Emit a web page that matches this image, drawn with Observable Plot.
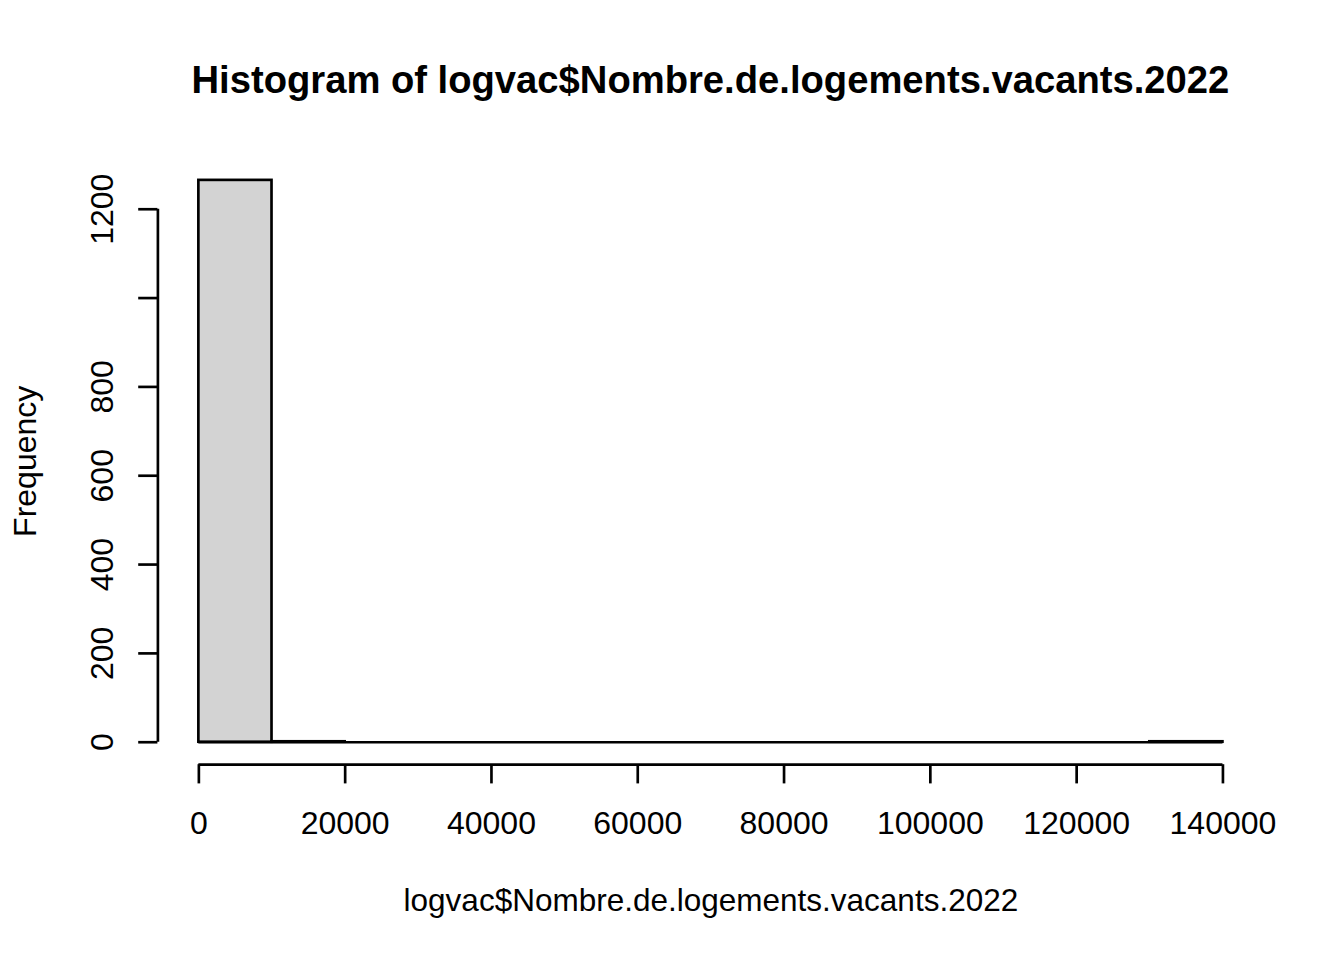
<!DOCTYPE html>
<html><head><meta charset="utf-8">
<script src="https://cdn.jsdelivr.net/npm/d3@7"></script>
<script src="https://cdn.jsdelivr.net/npm/@observablehq/plot@0.6"></script>
<style>
body{margin:0;background:#fff;font-family:"Liberation Sans",Arial,sans-serif;}
#title{box-sizing:border-box;height:120px;padding-top:58px;margin-left:157.4px;width:1106px;text-align:center;
font:700 38.2px/44px "Liberation Sans",Arial,sans-serif;color:#000;white-space:nowrap;}
svg{display:block;}
</style></head>
<body>
<div id="title">Histogram of logvac$Nombre.de.logements.vacants.2022</div>
<div id="chart"></div>
<script>
// Histogram bins (break edges) and counts
const breaks = [0, 10000, 20000, 30000, 40000, 50000, 60000, 70000, 80000, 90000, 100000, 110000, 120000, 130000, 140000];
const counts = [1265, 1, 0, 0, 0, 0, 0, 0, 0, 0, 0, 0, 0, 1];
const xTicks = [0, 20000, 40000, 60000, 80000, 100000, 120000, 140000];
const yTicks = [0, 200, 400, 600, 800, 1000, 1200];
const yTickLabels = [0, 200, 400, 600, 800, 1200]; // R drops "1000" (overlap)
const xTitle = "logvac$Nombre.de.logements.vacants.2022";
const yTitle = "Frequency";

const bins = counts.map((c, i) => ({x0: breaks[i], x1: breaks[i + 1], count: c}));
const xMin = breaks[0], xMax = breaks[breaks.length - 1];
const M = d3.max(counts);
const xDomain = [xMin - 0.04 * (xMax - xMin), xMax + 0.04 * (xMax - xMin)];
const yDomain = [-0.04 * M, 1.04 * M];
const lw = 2.67;

const chart = Plot.plot({
  width: 1344, height: 840,
  marginTop: 37.4, marginBottom: 195.8, marginLeft: 157.4, marginRight: 80.6,
  style: {fontFamily: '"Liberation Sans", Arial, sans-serif', fontSize: "32px", color: "#000", background: "#fff"},
  x: {domain: xDomain},
  y: {domain: yDomain},
  marks: [
    Plot.rectY(bins, {x1: "x0", x2: "x1", y: "count", fill: "#d3d3d3", stroke: "#000", strokeWidth: lw, inset: 0}),
    // outline of the empty (zero-height) bins along the baseline
    Plot.ruleY([0], {x1: xMin, x2: xMax, stroke: "#000", strokeWidth: lw}),
    Plot.ruleY([yDomain[0]], {x1: xMin, x2: xMax, stroke: "#000", strokeWidth: lw}),
    Plot.ruleX([xDomain[0]], {y1: yTicks[0], y2: yTicks[yTicks.length - 1], stroke: "#000", strokeWidth: lw}),
    Plot.axisX({ticks: xTicks, tickSize: 19.2, tickPadding: 27.4, tickFormat: d => String(d), label: null, strokeWidth: lw, fontSize: 32, fontVariant: "normal"}),
    Plot.axisY({ticks: yTicks, tickSize: 19.2, tickFormat: () => "", label: null, strokeWidth: lw}),
    Plot.text(yTickLabels, {y: d => d, text: d => String(d), frameAnchor: "left", rotate: -90, dx: -55.6, fontSize: 32, textAnchor: "middle", lineAnchor: "middle"}),
    Plot.text([yTitle], {text: d => d, frameAnchor: "left", rotate: -90, dx: -132.6, fontSize: 32, textAnchor: "middle", lineAnchor: "middle"}),
    Plot.text([xTitle], {text: d => d, frameAnchor: "bottom", dy: 135.8, fontSize: 31.5, textAnchor: "middle", lineAnchor: "middle"})
  ]
});
document.getElementById("chart").append(chart);
</script>
</body></html>
